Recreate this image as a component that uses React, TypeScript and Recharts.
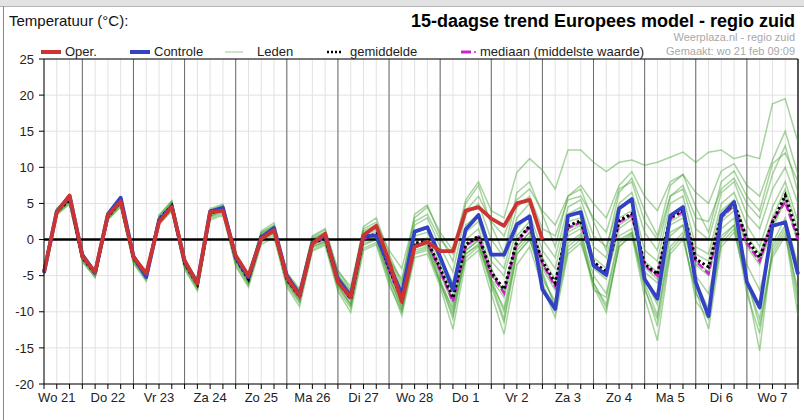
import { LineChart, Line, XAxis, YAxis, CartesianGrid, ReferenceLine } from 'recharts'

// 6-uurs stappen: index 0 = wo 21 06:00, index 59 = do 8 00:00
const DAGEN = ['Wo 21', 'Do 22', 'Vr 23', 'Za 24', 'Zo 25', 'Ma 26', 'Di 27', 'Wo 28', 'Do 1', 'Vr 2', 'Za 3', 'Zo 4', 'Ma 5', 'Di 6', 'Wo 7']
const Y_TICKS = [-20, -15, -10, -5, 0, 5, 10, 15, 20, 25]

// operationele run loopt tot za 3 00:00
const OPER = [
  -4.5, 3.8, 6.1, -2.3, -4.5, 3.4, 5.3, -2.4, -4.7, 2.4, 4.5, -2.9, -6.1, 3.8, 4.0, -2.2,
  -5.0, 0.1, 1.3, -5.2, -7.8, -0.6, 0.8, -5.9, -8.0, 0.6, 1.9, -3.0, -8.6, -1.0, -0.3, -1.6,
  -1.6, 4.0, 4.5, 2.9, 1.9, 5.0, 5.5, 0.0,
]
const CONTROLE = [
  -4.6, 3.9, 6.0, -2.1, -4.6, 3.5, 5.8, -2.3, -5.2, 2.6, 4.6, -3.0, -6.0, 3.9, 4.4, -2.4,
  -5.2, 0.3, 1.6, -5.0, -7.6, -0.5, 0.6, -5.5, -7.8, 0.5, 0.5, -3.5, -7.6, 1.1, 1.7, -2.4,
  -6.9, 1.4, 3.4, -2.1, -2.1, 2.1, 3.2, -6.9, -9.6, 3.3, 3.8, -3.6, -4.9, 4.3, 5.6, -5.5,
  -8.2, 3.3, 4.5, -5.9, -10.6, 3.3, 5.2, -5.9, -9.4, 1.9, 2.4, -4.8,
]
const GEMIDDELDE = [
  -4.4, 3.9, 5.5, -2.5, -4.7, 3.2, 5.2, -2.6, -5.0, 2.8, 4.7, -3.3, -6.2, 3.6, 4.3, -2.6,
  -5.5, 0.4, 1.4, -5.5, -7.9, -0.5, 0.2, -5.8, -8.2, 0.2, 0.8, -4.0, -8.3, -0.5, -0.2, -4.0,
  -8.1, -0.7, 0.5, -4.5, -6.9, -0.2, 1.9, -3.0, -6.0, 1.9, 2.6, -3.1, -4.5, 2.6, 3.6, -3.4,
  -4.8, 3.1, 4.0, -2.7, -3.8, 3.3, 5.0, 0.1, -2.5, 2.4, 6.1, 0.6,
]
const MEDIAAN = [
  -4.4, 3.9, 5.6, -2.5, -4.7, 3.2, 5.2, -2.6, -5.0, 2.8, 4.7, -3.3, -6.2, 3.6, 4.3, -2.6,
  -5.5, 0.4, 1.4, -5.6, -8.0, -0.5, 0.2, -5.9, -8.3, 0.1, 0.7, -4.2, -8.5, -0.7, -0.4, -4.3,
  -8.6, -0.9, 0.4, -4.8, -7.4, -0.4, 1.7, -3.3, -6.5, 1.6, 2.4, -3.3, -4.9, 2.4, 3.4, -3.6,
  -5.0, 2.9, 3.8, -3.0, -4.7, 3.0, 4.8, -0.5, -3.0, 2.6, 5.2, 0.0,
]

const LID1 = [
  -4.2, 4.2, 5.9, -2.0, -4.3, 3.6, 5.6, -2.2, -4.6, 3.3, 5.3, -2.8, -5.6, 4.3, 4.9, -1.9,
  -4.8, 1.2, 2.3, -4.6, -6.8, 0.4, 1.3, -4.4, -6.5, 1.5, 2.4, -1.5, -4.0, 3.0, 4.5, 1.0,
  -1.5, 5.5, 8.0, 4.0, 3.0, 9.3, 11.2, 9.6, 7.0, 12.4, 12.4, 10.7, 9.4, 10.7, 11.0, 10.3,
  10.7, 11.4, 12.1, 10.7, 12.1, 12.4, 11.2, 11.7, 11.2, 18.8, 19.5, 13.5,
]
const LID2 = [
  -4.6, 3.7, 5.2, -2.8, -4.9, 3.0, 4.9, -2.9, -5.3, 2.5, 4.4, -3.6, -6.4, 3.3, 4.0, -2.9,
  -5.8, 0.0, 1.0, -5.0, -7.2, 0.5, 1.5, -4.2, -7.0, 1.8, 3.0, -2.0, -6.0, 3.5, 4.8, 0.5,
  -3.0, 5.0, 7.5, 2.0, -2.0, 6.5, 8.0, 3.5, -1.0, 6.0, 7.0, 2.5, -1.5, 6.5, 8.5, 4.0,
  0.5, 7.5, 9.0, 4.5, 1.0, 8.0, 9.5, 6.0, 4.0, 10.5, 12.0, 8.0,
]
const LID3 = [
  -4.8, 3.5, 5.0, -3.0, -5.2, 2.8, 4.6, -3.2, -5.6, 2.3, 4.1, -3.9, -6.9, 2.9, 3.6, -3.5,
  -6.3, -0.4, 0.6, -6.3, -8.8, -1.4, -0.6, -6.9, -9.5, -1.2, -0.4, -5.8, -10.5, -2.5, -2.0, -6.5,
  -12.4, -3.0, -1.5, -7.5, -13.1, -3.5, -1.0, -6.5, -10.8, -2.0, -0.5, -6.0, -9.0, -1.0, 0.5, -8.0,
  -14.0, -2.0, 0.0, -7.0, -12.4, -1.0, 1.0, -6.0, -11.0, -2.0, 1.0, -10.6,
]
const LID4 = [
  -4.3, 4.0, 5.7, -2.3, -4.6, 3.4, 5.4, -2.4, -4.8, 3.0, 5.0, -3.0, -6.0, 3.9, 4.6, -2.3,
  -5.3, 0.8, 1.8, -5.8, -8.2, -0.9, -0.2, -6.2, -8.9, -0.3, 0.3, -5.0, -9.2, -1.2, -0.5, -5.5,
  -10.0, -1.5, 0.0, -6.0, -9.5, -1.0, 1.0, -5.0, -9.0, 0.5, 1.5, -6.5, -10.1, -0.5, 1.0, -7.0,
  -11.0, 0.5, 2.0, -6.0, -9.5, 1.5, 3.0, -6.5, -15.4, -1.0, 2.0, -8.0,
]
const LID5 = [
  -4.5, 3.8, 5.6, -2.4, -4.6, 3.3, 5.3, -2.5, -4.9, 2.9, 4.8, -3.1, -6.1, 3.7, 4.4, -2.5,
  -5.4, 0.5, 1.6, -5.3, -7.6, -0.3, 0.5, -5.4, -7.8, 0.6, 1.3, -3.5, -7.5, 0.5, 1.0, -3.0,
  -6.5, 1.0, 2.5, -3.0, -5.0, 1.5, 3.5, -1.5, -4.0, 3.5, 4.5, -1.0, -2.5, 4.5, 5.5, -1.5,
  -3.0, 5.0, 6.0, -1.0, -2.0, 5.0, 6.5, 2.0, -1.0, 4.5, 8.0, 2.5,
]
const LID6 = [
  -4.4, 3.9, 5.4, -2.6, -4.8, 3.1, 5.1, -2.7, -5.1, 2.7, 4.6, -3.4, -6.3, 3.5, 4.2, -2.7,
  -5.7, 0.2, 1.2, -5.7, -8.1, -0.7, 0.0, -6.0, -8.5, 0.0, 0.6, -4.5, -8.8, -1.0, -0.8, -4.8,
  -9.0, -1.5, -0.2, -5.5, -8.0, -1.0, 1.0, -4.0, -7.0, 1.0, 2.0, -4.0, -5.5, 1.5, 2.8, -4.5,
  -6.0, 2.0, 3.0, -3.5, -5.0, 2.5, 4.0, -1.0, -3.5, 1.5, 5.5, -0.5,
]
const LID7 = [
  -4.7, 3.6, 5.3, -2.7, -4.5, 3.5, 5.5, -2.3, -5.2, 2.6, 4.5, -3.5, -6.5, 3.4, 4.1, -2.8,
  -5.6, 0.3, 1.3, -5.6, -7.9, -0.6, 0.1, -5.9, -8.0, 0.3, 1.0, -4.2, -8.0, -0.2, 0.2, -3.5,
  -7.5, 0.0, 1.5, -4.0, -7.5, 0.5, 2.5, -2.5, -5.5, 2.5, 3.0, -2.5, -4.0, 3.0, 4.0, -3.0,
  -4.5, 3.5, 4.5, -2.0, -3.0, 4.0, 5.5, 0.5, -2.0, 3.0, 7.0, 1.5,
]
const LID8 = [
  -4.3, 4.1, 5.8, -2.2, -4.7, 3.2, 5.0, -2.8, -5.0, 2.9, 4.9, -3.2, -6.2, 3.8, 4.5, -2.4,
  -5.2, 0.6, 1.5, -5.2, -7.5, 0.0, 0.8, -5.0, -7.6, 0.8, 1.5, -3.0, -7.0, 1.0, 1.5, -2.5,
  -6.0, 2.0, 3.5, -2.0, -4.0, 3.0, 5.0, 0.0, -2.5, 4.5, 5.5, 0.5, -1.0, 5.0, 6.5, 1.0,
  -1.5, 6.0, 7.0, 1.5, 0.0, 6.5, 8.0, 3.5, 1.5, 7.0, 10.0, 5.0,
]
const LID9 = [
  -4.5, 3.7, 5.5, -2.6, -4.9, 3.0, 5.0, -2.9, -5.4, 2.4, 4.3, -3.7, -6.6, 3.2, 3.9, -3.0,
  -6.0, -0.2, 0.9, -6.0, -8.5, -1.0, -0.3, -6.5, -9.0, -0.6, 0.1, -5.2, -9.5, -1.5, -1.0, -5.8,
  -11.0, -2.0, -0.8, -6.5, -11.5, -2.0, 0.0, -5.5, -8.5, -0.5, 0.8, -5.0, -7.5, 0.5, 1.5, -5.5,
  -9.0, 1.0, 2.0, -5.0, -7.5, 0.5, 2.0, -3.5, -7.0, -0.5, 3.0, -3.5,
]
const LID10 = [
  -4.1, 4.3, 6.0, -2.0, -4.4, 3.7, 5.7, -2.1, -4.5, 3.4, 5.4, -2.6, -5.8, 4.1, 4.8, -2.0,
  -5.0, 1.0, 2.0, -4.8, -7.0, 0.2, 1.0, -4.8, -7.2, 1.2, 2.0, -2.5, -6.5, 2.0, 3.0, -1.0,
  -4.5, 3.5, 5.0, 0.0, -2.5, 4.5, 6.0, 1.5, 0.5, 5.5, 6.0, 3.0, 1.0, 7.0, 8.0, 2.5,
  0.0, 6.0, 7.5, 3.0, 2.5, 7.0, 8.5, 5.0, 3.0, 9.0, 13.0, 6.5,
]
const LID11 = [
  -4.9, 3.4, 4.9, -3.1, -5.3, 2.7, 4.5, -3.3, -5.8, 2.1, 3.9, -4.1, -7.1, 2.7, 3.4, -3.7,
  -6.6, -0.7, 0.3, -6.6, -9.3, -1.6, -0.8, -7.2, -10.1, -1.5, -0.7, -6.3, -10.0, -2.0, -1.5, -6.0,
  -9.5, -2.5, -1.0, -5.5, -10.0, -2.0, 0.0, -4.5, -9.5, -1.0, 0.5, -7.0, -8.0, 0.0, 1.0, -6.0,
  -10.5, -1.0, 1.0, -8.5, -11.0, 0.0, 2.0, -7.5, -13.0, -1.5, 1.5, -9.0,
]
const LID12 = [
  -4.4, 4.0, 5.6, -2.5, -4.7, 3.3, 5.2, -2.6, -5.0, 2.8, 4.7, -3.3, -6.2, 3.6, 4.3, -2.6,
  -5.5, 0.4, 1.4, -5.5, -7.8, -0.4, 0.3, -5.7, -8.2, 0.1, 0.7, -4.2, -8.5, -0.8, -0.5, -4.5,
  -8.5, -1.0, 0.2, -5.0, -7.0, 0.0, 2.0, -3.5, -6.5, 1.5, 2.2, -3.5, -5.0, 2.0, 3.2, -3.8,
  -5.5, 2.5, 3.5, -3.0, -4.5, 3.0, 4.5, -0.5, -3.0, 2.0, 6.0, 0.0,
]
const LID13 = [
  -4.2, 4.1, 5.8, -2.1, -4.5, 3.4, 5.3, -2.4, -4.7, 3.1, 5.1, -2.9, -5.9, 3.9, 4.6, -2.2,
  -5.1, 0.9, 1.9, -5.0, -7.3, 0.1, 0.9, -5.0, -7.4, 1.0, 1.8, -2.8, -5.5, 2.5, 3.5, 0.0,
  -2.0, 4.0, 6.0, 2.5, 0.5, 5.5, 7.0, 4.0, 2.0, 6.0, 7.5, 5.0, 3.0, 7.5, 9.4, 6.0,
  4.0, 8.0, 9.0, 6.5, 5.0, 9.5, 10.5, 7.5, 6.0, 11.0, 15.0, 9.0,
]
const LID14 = [
  -4.6, 3.6, 5.3, -2.7, -5.0, 2.9, 4.8, -3.0, -5.3, 2.5, 4.4, -3.6, -6.7, 3.1, 3.8, -3.1,
  -6.2, -0.1, 1.0, -5.9, -8.6, -1.1, -0.4, -6.4, -9.2, -0.8, 0.0, -5.3, -9.8, -1.8, -1.2, -6.0,
  -10.5, -2.0, -0.6, -6.0, -11.0, -1.5, 0.5, -6.0, -10.0, -1.5, 0.0, -6.0, -9.5, -1.0, 0.8, -6.5,
  -12.0, -1.5, 0.5, -7.5, -10.0, -0.5, 1.5, -5.5, -12.0, -2.5, 0.5, -7.0,
]
const LEDEN = [LID1, LID2, LID3, LID4, LID5, LID6, LID7, LID8, LID9, LID10, LID11, LID12, LID13, LID14]

const RED = '#cc3333'
const BLUE = '#3342c4'
const GREEN = '#3f9f2c'
const MAGENTA = '#cc22cc'
const FONT = '"Liberation Sans", Arial, sans-serif'

const data = CONTROLE.map((c, i) => {
  const row: Record<string, number | null> = {
    i,
    oper: i < OPER.length ? OPER[i] : null,
    ctrl: c,
    gem: GEMIDDELDE[i],
    med: MEDIAAN[i],
  }
  LEDEN.forEach((lid, k) => {
    row['l' + k] = lid[i]
  })
  return row
})

const X_TICKS = data.map((d) => d.i as number)
const DAY_LINES = X_TICKS.filter((i) => i % 4 === 3)

function DayTick({ x, y, payload }: { x?: number; y?: number; payload?: { value: number } }) {
  const i = payload?.value ?? 0
  if (i % 4 !== 1) return <g />
  return (
    <text x={x} y={y} dy="0.71em" textAnchor="middle" fontSize={13} fill="#222" fontFamily={FONT}>
      {DAGEN[(i - 1) / 4]}
    </text>
  )
}

function Header() {
  return (
    <svg width={804} height={420} style={{ position: 'absolute', left: 0, top: 0, pointerEvents: 'none' }}>
      <rect x={0} y={0} width={804} height={6} fill="#e2e2e2" />
      <line x1={0} y1={6.5} x2={804} y2={6.5} stroke="#b5b5b5" />
      <line x1={3.5} y1={6} x2={3.5} y2={420} stroke="#8a8a8a" />
      <text x={9} y={26} fontSize={15} fill="#111" fontFamily={FONT}>Temperatuur (°C):</text>
      <text x={795} y={27} fontSize={18} fontWeight="bold" textAnchor="end" fill="#000" fontFamily={FONT}>
        15-daagse trend Europees model - regio zuid
      </text>
      <text x={795} y={40.5} fontSize={11} textAnchor="end" fill="#a8a8a8" fontFamily={FONT}>Weerplaza.nl - regio zuid</text>
      <text x={795} y={54.5} fontSize={11} textAnchor="end" fill="#a8a8a8" fontFamily={FONT}>Gemaakt: wo 21 feb 09:09</text>
      <g fontSize={13} fill="#222" fontFamily={FONT}>
        <line x1={41} y1={52} x2={61} y2={52} stroke={RED} strokeWidth={4} />
        <text x={65} y={56}>Oper.</text>
        <line x1={130} y1={52} x2={150} y2={52} stroke={BLUE} strokeWidth={4} />
        <text x={154} y={56}>Controle</text>
        <line x1={225} y1={52} x2={243} y2={52} stroke="#b9dcb0" strokeWidth={1.5} />
        <text x={257} y={56}>Leden</text>
        <line x1={327} y1={52} x2={341} y2={52} stroke="#000" strokeWidth={2.5} strokeDasharray="2 2" />
        <text x={350} y={56}>gemiddelde</text>
        <line x1={461} y1={52} x2={471} y2={52} stroke={MAGENTA} strokeWidth={3} />
        <circle cx={475} cy={52} r={1} fill={MAGENTA} />
        <text x={480} y={56}>mediaan (middelste waarde)</text>
      </g>
    </svg>
  )
}

export default function App() {
  return (
    <div style={{ position: 'fixed', left: 0, top: 0, width: 804, height: 420, background: '#fff', overflow: 'hidden' }}>
      <LineChart width={804} height={420} data={data} margin={{ top: 59, right: 6, bottom: 6, left: 0 }}>
        <CartesianGrid stroke="#e2e2e2" />
        <XAxis
          dataKey="i"
          type="number"
          domain={[0, 59]}
          ticks={X_TICKS}
          interval={0}
          height={30}
          tickSize={5}
          tickMargin={4}
          tickLine={{ stroke: '#000' }}
          axisLine={{ stroke: '#000' }}
          tick={<DayTick />}
        />
        <YAxis
          type="number"
          domain={[-20, 25]}
          ticks={Y_TICKS}
          width={44}
          tickSize={5}
          tickMargin={5}
          tickLine={{ stroke: '#000' }}
          axisLine={{ stroke: '#000' }}
          tick={{ fontSize: 13, fill: '#222', fontFamily: FONT }}
        />
        {DAY_LINES.map((d) => (
          <ReferenceLine key={d} x={d} stroke="#6a6a6a" />
        ))}
        <ReferenceLine x={59} stroke="#000" />
        <ReferenceLine y={25} stroke="#000" />
        {LEDEN.map((_, k) => (
          <Line
            key={k}
            dataKey={'l' + k}
            stroke={GREEN}
            strokeOpacity={0.45}
            strokeWidth={1.5}
            dot={false}
            isAnimationActive={false}
          />
        ))}
        <ReferenceLine y={0} stroke="#000" strokeWidth={2.5} />
        <Line dataKey="med" stroke={MAGENTA} strokeWidth={2.5} strokeDasharray="7 3" dot={false} isAnimationActive={false} />
        <Line dataKey="gem" stroke="#000" strokeWidth={3} strokeDasharray="2.5 2.5" dot={false} isAnimationActive={false} />
        <Line dataKey="ctrl" stroke={BLUE} strokeWidth={3.8} strokeLinejoin="round" dot={false} isAnimationActive={false} />
        <Line dataKey="oper" stroke={RED} strokeWidth={3.8} strokeLinejoin="round" dot={false} connectNulls={false} isAnimationActive={false} />
      </LineChart>
      <Header />
    </div>
  )
}
